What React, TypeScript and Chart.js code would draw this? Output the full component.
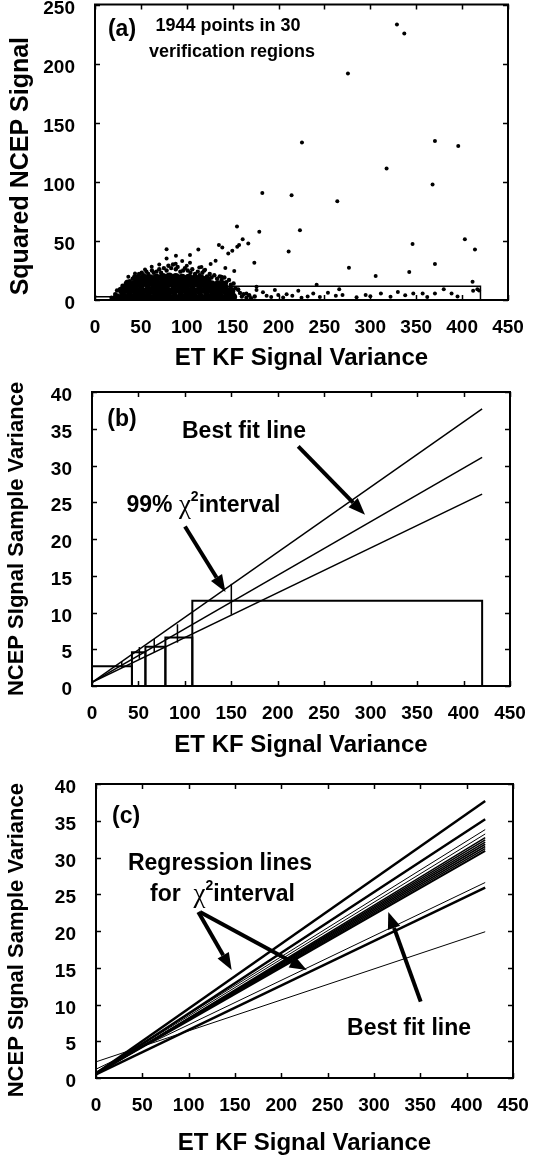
import React, { useEffect, useRef } from 'react';
import { Chart, registerables } from 'chart.js';

Chart.register(...registerables);

// ---------------- data ----------------
const xTickValues = [0, 50, 100, 150, 200, 250, 300, 350, 400, 450];
const aYTickValues = [0, 50, 100, 150, 200, 250];
const bcYTickValues = [0, 5, 10, 15, 20, 25, 30, 35, 40];

// Panel (a): scattered points (ET KF signal variance, squared NCEP signal)
const sparsePoints: [number, number][] = [
  [329, 233], [337, 225.5], [275.6, 191.7], [225.5, 133.2], [395.8, 130.3], [370.4, 134.6],
  [317.7, 111.2], [367.8, 97.7], [182.3, 90.6], [214.2, 88.7], [264, 83.6], [154.7, 62.2],
  [223.3, 59.1], [179, 57.7], [403, 51.5], [160.9, 51.3], [414, 42.8], [346, 47.3], [167, 47.9],
  [157, 46.5], [155, 45], [135, 46.5], [138.7, 44.5], [149.6, 41.7], [145.2, 39.4], [211, 41],
  [112.6, 42.8], [78, 43], [173.6, 31.5], [370.4, 30.4], [276.7, 27.3], [305.8, 20.3],
  [342.4, 23.6], [411.4, 15.5], [241.5, 13], [126, 30.4], [131.4, 33.2], [103.5, 38], [88.2, 37.4],
  [87.9, 30.7], [78, 35.2], [61.8, 28.2], [54.5, 25.9], [43.6, 22.5], [36.3, 19.7], [113.6, 27.6],
  [103.5, 31.5], [151.7, 24.5], [138, 19.7], [120, 25.5], [95, 33], [70, 30], [100, 29], [116, 28],
  [142, 27],
  [346.8, 5.6], [338, 4], [311.5, 5.6], [294.9, 4.2], [266.1, 9], [269.7, 4.2], [262.4, 3.7],
  [253.8, 6.2], [237.8, 5.6], [221.5, 7.9], [231.7, 3], [208.8, 4.8], [196, 8.4], [199.7, 4.2],
  [187, 3.7], [176, 11.3], [176, 8.4], [165, 5.6], [156, 8.4], [357, 5.6], [380, 9], [370.4, 5.6],
  [388.5, 5.6], [412, 7.9], [416.6, 9], [418.5, 8], [183, 6.5], [192, 2.5], [205, 2.2], [215, 3.5],
  [225, 2], [245, 2.5], [285, 2.3], [300, 3.2], [322, 2.8], [330, 6.8], [362, 2.6], [395, 3],
];

// Panel (a): points on the edge of the dense cloud
const fringePoints: [number, number][] = [
  [18, 2], [22, 5], [24, 8], [27, 9], [30, 12], [32, 11], [35, 15], [38, 16], [41, 18], [43, 20],
  [46, 19], [48, 22], [51, 23], [53, 21], [56, 24], [58, 22], [62, 25], [64, 23], [67, 24],
  [70, 26], [72, 23], [75, 27], [78, 25], [80, 29], [83, 27], [85, 30], [88, 26], [90, 28],
  [93, 24], [96, 25], [98, 27], [101, 25], [104, 23], [106, 26], [109, 22], [112, 24], [114, 21],
  [117, 23], [119, 25], [122, 20], [125, 22], [127, 19], [130, 21], [133, 18], [136, 20],
  [138, 17], [141, 19], [143, 15], [146, 17], [148, 13], [151, 14], [153, 10], [156, 9],
  [158, 6], [160, 3], [162, 5], [165, 2], [168, 4], [170, 1.5], [174, 3],
];

// Panel (a): the solid core of the cloud
const corePoints: [number, number][] = [
  [24, 2], [31, 2.5], [38, 2.5], [45, 3], [52, 2.5], [59, 2], [66, 2.5], [73, 3], [80, 2.5],
  [87, 2], [94, 2.5], [101, 3], [108, 2.5], [115, 2], [122, 2.5], [129, 3], [136, 2.5], [143, 2],
  [150, 2.5],
  [30, 8], [37, 8.5], [44, 8], [51, 7.5], [58, 8], [65, 8.5], [72, 8], [79, 7.5], [86, 8],
  [93, 8.5], [100, 8], [107, 7.5], [114, 8], [121, 8.5], [128, 8], [135, 7.5], [142, 8], [148, 7.5],
  [36, 13.5], [43, 13], [50, 13.5], [57, 14], [64, 13.5], [71, 13], [78, 13.5], [85, 14],
  [92, 13.5], [99, 13], [106, 13.5], [113, 14], [120, 13.5], [127, 13], [134, 13], [140, 12.5],
  [46, 18], [53, 18.5], [60, 18], [67, 18.5], [74, 19], [81, 19.5], [88, 19], [95, 18.5],
  [102, 18.5], [109, 18], [116, 17.5], [122, 17],
];

// Bins (panels a and b)
const binEdges = [0, 43, 57.5, 79, 108, 420];
const binMeanSignal = [2.7, 4.6, 5.35, 6.6, 11.6];
const binMeanVariance = [32, 51, 67, 92, 150];
const intervalLow = [2.5, 3.7, 4.6, 5.9, 9.7];
const intervalHigh = [3.4, 5.3, 6.4, 8.4, 13.9];

// Panel (b): upper 99%, best fit, lower 99% lines
const lineEndX = 420;
const bLineIntercepts = [0.5, 0.5, 0.5];
const bLineEnds = [37.7, 31.1, 26.1];

// Panel (c): regression lines for the chi-square interval
const cLineIntercepts = [0.6, 0.5, 0.8, 0.7, 0.5, 0.5, 0.6, 0.6, 0.6, 0.6, 0.6, 1.2, 0.5, 2.2];
const cLineEnds = [37.7, 35.2, 33.8, 33.2, 32.7, 32.4, 32.1, 31.8, 31.5, 31.2, 30.9, 26.6, 25.9, 19.9];

// ---------------- styles ----------------
const FONT = '"Liberation Sans", Arial, Helvetica, sans-serif';
const cLineWidths = [2.5, 2.5, 1, 1, 1.6, 1.6, 1.6, 1.6, 1.6, 1.6, 2, 1, 2.5, 1];
const B23 = `bold 23px ${FONT}`;
const B18 = `bold 18px ${FONT}`;
const CHI = `27px "Liberation Serif", "DejaVu Serif", serif`;
const SUP = `bold 14px ${FONT}`;

type Seg = { t: string; f: string; dy?: number };
type Note = { x: number; y: number; segs: Seg[] };
type Arrow = [number, number, number, number];

const framePlugin = {
  id: 'frame',
  afterDatasetsDraw(chart: any) {
    const { ctx, chartArea } = chart;
    const { left, top, right, bottom } = chartArea;
    const xs = chart.scales.x;
    const ys = chart.scales.y;
    ctx.save();
    ctx.strokeStyle = '#000';
    ctx.lineWidth = 2;
    ctx.strokeRect(left, top, right - left, bottom - top);
    ctx.lineWidth = 1.5;
    ctx.beginPath();
    xs.ticks.forEach((t: any) => {
      const p = Math.round(xs.getPixelForValue(t.value)) + 0.5;
      ctx.moveTo(p, bottom); ctx.lineTo(p, bottom - 5);
      ctx.moveTo(p, top); ctx.lineTo(p, top + 5);
    });
    ys.ticks.forEach((t: any) => {
      const p = Math.round(ys.getPixelForValue(t.value)) + 0.5;
      ctx.moveTo(left, p); ctx.lineTo(left + 5, p);
      ctx.moveTo(right, p); ctx.lineTo(right - 5, p);
    });
    ctx.stroke();
    ctx.restore();
  },
};

function notesPlugin(notes: Note[], arrows: Arrow[]) {
  return {
    id: 'notes',
    afterDraw(chart: any) {
      const { ctx } = chart;
      const xs = chart.scales.x;
      const ys = chart.scales.y;
      ctx.save();
      ctx.fillStyle = '#000';
      ctx.strokeStyle = '#000';
      ctx.textBaseline = 'middle';
      ctx.textAlign = 'left';
      for (const n of notes) {
        let total = 0;
        for (const s of n.segs) { ctx.font = s.f; total += ctx.measureText(s.t).width; }
        let cx = xs.getPixelForValue(n.x) - total / 2;
        const cy = ys.getPixelForValue(n.y);
        for (const s of n.segs) {
          ctx.font = s.f;
          ctx.fillText(s.t, cx, cy + (s.dy || 0));
          cx += ctx.measureText(s.t).width;
        }
      }
      for (const [x1, y1, x2, y2] of arrows) {
        const ax = xs.getPixelForValue(x1), ay = ys.getPixelForValue(y1);
        const bx = xs.getPixelForValue(x2), by = ys.getPixelForValue(y2);
        const ang = Math.atan2(by - ay, bx - ax);
        const c = Math.cos(ang), s = Math.sin(ang);
        const L = 17, W = 6.5;
        const hx = bx - L * c, hy = by - L * s;
        ctx.lineWidth = 4;
        ctx.beginPath(); ctx.moveTo(ax, ay); ctx.lineTo(hx, hy); ctx.stroke();
        ctx.beginPath();
        ctx.moveTo(bx, by);
        ctx.lineTo(hx + W * s, hy - W * c);
        ctx.lineTo(hx - W * s, hy + W * c);
        ctx.closePath(); ctx.fill();
      }
      ctx.restore();
    },
  };
}

type Spec = {
  height: number; chartTop: number; chartBottom: number; chartLeft: number; chartRight: number;
  yMax: number; yTicks: number[]; yTitle: string; yTitleSize: number; yTitlePad: number; yLabelOffset: number;
  xTitlePad: number; datasets: any[]; notes: Note[]; arrows: Arrow[];
};

const lineDs = (pts: { x: number; y: number }[], width: number) => ({
  data: pts, showLine: true, pointRadius: 0, borderColor: '#000', backgroundColor: '#000',
  borderWidth: width, fill: false, tension: 0,
});

const pointDs = (pts: [number, number][], r: number) => ({
  data: pts.map(([x, y]) => ({ x, y })), pointRadius: r, pointBorderWidth: 0,
  backgroundColor: '#000', borderColor: '#000', showLine: false,
});

const binBoxes = (w: number) => binMeanSignal.map((h, i) => lineDs([
  { x: binEdges[i], y: 0 }, { x: binEdges[i], y: h }, { x: binEdges[i + 1], y: h }, { x: binEdges[i + 1], y: 0 },
], w));

const specA: Spec = {
  height: 372, chartTop: 4, chartBottom: 300, chartLeft: 95, chartRight: 508,
  yMax: 250, yTicks: aYTickValues, yTitle: 'Squared NCEP Signal    ', yTitleSize: 25, yTitlePad: 9, yLabelOffset: 4,
  xTitlePad: 2,
  datasets: [
    pointDs(corePoints, 4.5),
    pointDs(fringePoints, 2.2),
    pointDs(sparsePoints, 2),
    ...binBoxes(1.5),
  ],
  notes: [
    { x: 29.4, y: 228.9, segs: [{ t: '(a)', f: B23 }] },
    { x: 144.9, y: 231.4, segs: [{ t: '1944 points in 30', f: B18 }] },
    { x: 149.2, y: 209.5, segs: [{ t: 'verification regions', f: B18 }] },
  ],
  arrows: [],
};

const specB: Spec = {
  height: 388, chartTop: 20, chartBottom: 314, chartLeft: 92, chartRight: 510,
  yMax: 40, yTicks: bcYTickValues, yTitle: 'NCEP SIgnal Sample Variance', yTitleSize: 22, yTitlePad: 6, yLabelOffset: 4,
  xTitlePad: 3,
  datasets: [
    ...bLineIntercepts.map((b, i) => lineDs([{ x: 0, y: b }, { x: lineEndX, y: bLineEnds[i] }], 1.5)),
    ...binBoxes(2),
    ...binMeanVariance.map((m, i) => lineDs([{ x: m, y: intervalLow[i] }, { x: m, y: intervalHigh[i] }], 1.5)),
  ],
  notes: [
    { x: 32.3, y: 36.2, segs: [{ t: '(b)', f: B23 }] },
    { x: 163.6, y: 34.6, segs: [{ t: 'Best fit line', f: B23 }] },
    { x: 120, y: 24.5, segs: [{ t: '99% ', f: B23 }, { t: 'χ', f: CHI }, { t: '2', f: SUP, dy: -9 }, { t: 'interval', f: B23 }] },
  ],
  arrows: [[222, 32.6, 293.9, 23.3], [100.1, 21.7, 143.7, 12.8]],
};

const specC: Spec = {
  height: 400, chartTop: 24, chartBottom: 318, chartLeft: 96, chartRight: 513,
  yMax: 40, yTicks: bcYTickValues, yTitle: 'NCEP SIgnal Sample Variance   ', yTitleSize: 22, yTitlePad: 6, yLabelOffset: 4,
  xTitlePad: 4.5,
  datasets: cLineIntercepts.map((b, i) => lineDs([{ x: 0, y: b }, { x: lineEndX, y: cLineEnds[i] }], cLineWidths[i])),
  notes: [
    { x: 32.4, y: 35.6, segs: [{ t: '(c)', f: B23 }] },
    { x: 133.8, y: 29.1, segs: [{ t: 'Regression lines', f: B23 }] },
    { x: 136.5, y: 24.9, segs: [{ t: 'for  ', f: B23 }, { t: 'χ', f: CHI }, { t: '2', f: SUP, dy: -9 }, { t: 'interval', f: B23 }] },
    { x: 337.8, y: 6.7, segs: [{ t: 'Best fit line', f: B23 }] },
  ],
  arrows: [[110.4, 22.6, 146.4, 14.7], [112.2, 22.6, 227.4, 14.7], [350.4, 10.4, 315.4, 22.6]],
};

function buildChart(canvas: HTMLCanvasElement, spec: Spec) {
  const zeroPad = (s: any) => { s.paddingLeft = 0; s.paddingRight = 0; s.paddingTop = 0; s.paddingBottom = 0; };
  const tickFont = { family: FONT, size: 19, weight: 'bold' as const, lineHeight: 1 };
  return new Chart(canvas, {
    type: 'scatter',
    data: { datasets: spec.datasets },
    options: {
      responsive: false,
      animation: false,
      events: [],
      layout: { padding: { left: 0, top: spec.chartTop, right: 537 - spec.chartRight, bottom: 0 } },
      plugins: { legend: { display: false }, tooltip: { enabled: false } },
      scales: {
        x: {
          type: 'linear', min: 0, max: 450,
          grid: { display: false, drawTicks: false }, border: { display: false },
          afterBuildTicks: (s: any) => { s.ticks = xTickValues.map((v) => ({ value: v })); },
          ticks: { color: '#000', font: tickFont, padding: 18, maxRotation: 0, minRotation: 0, autoSkip: false },
          title: {
            display: true, text: 'ET KF Signal Variance', color: '#000',
            font: { family: FONT, size: 24, weight: 'bold', lineHeight: 1 },
            padding: { top: 0, bottom: spec.xTitlePad },
          },
          afterFit: (s: any) => { s.height = spec.height - spec.chartBottom; zeroPad(s); },
        },
        y: {
          type: 'linear', min: 0, max: spec.yMax,
          grid: { display: false, drawTicks: false }, border: { display: false },
          afterBuildTicks: (s: any) => { s.ticks = spec.yTicks.map((v) => ({ value: v })); },
          ticks: { color: '#000', font: tickFont, padding: 20, autoSkip: false, labelOffset: spec.yLabelOffset },
          title: {
            display: true, text: spec.yTitle, color: '#000',
            font: { family: FONT, size: spec.yTitleSize, weight: 'bold', lineHeight: 1 },
            padding: { top: spec.yTitlePad, bottom: 0 },
          },
          afterFit: (s: any) => { s.width = spec.chartLeft; zeroPad(s); },
        },
      },
    } as any,
    plugins: [framePlugin, notesPlugin(spec.notes, spec.arrows)],
  });
}

export default function App() {
  const refA = useRef<HTMLCanvasElement>(null);
  const refB = useRef<HTMLCanvasElement>(null);
  const refC = useRef<HTMLCanvasElement>(null);

  useEffect(() => {
    const charts = [
      buildChart(refA.current!, specA),
      buildChart(refB.current!, specB),
      buildChart(refC.current!, specC),
    ];
    return () => charts.forEach((c) => c.destroy());
  }, []);

  return (
    <div style={{ position: 'absolute', left: 0, top: 0, width: 537, height: 1160, background: '#fff', overflow: 'hidden' }}>
      <canvas ref={refA} width={537} height={specA.height} style={{ display: 'block', width: 537, height: specA.height }} />
      <canvas ref={refB} width={537} height={specB.height} style={{ display: 'block', width: 537, height: specB.height }} />
      <canvas ref={refC} width={537} height={specC.height} style={{ display: 'block', width: 537, height: specC.height }} />
    </div>
  );
}
